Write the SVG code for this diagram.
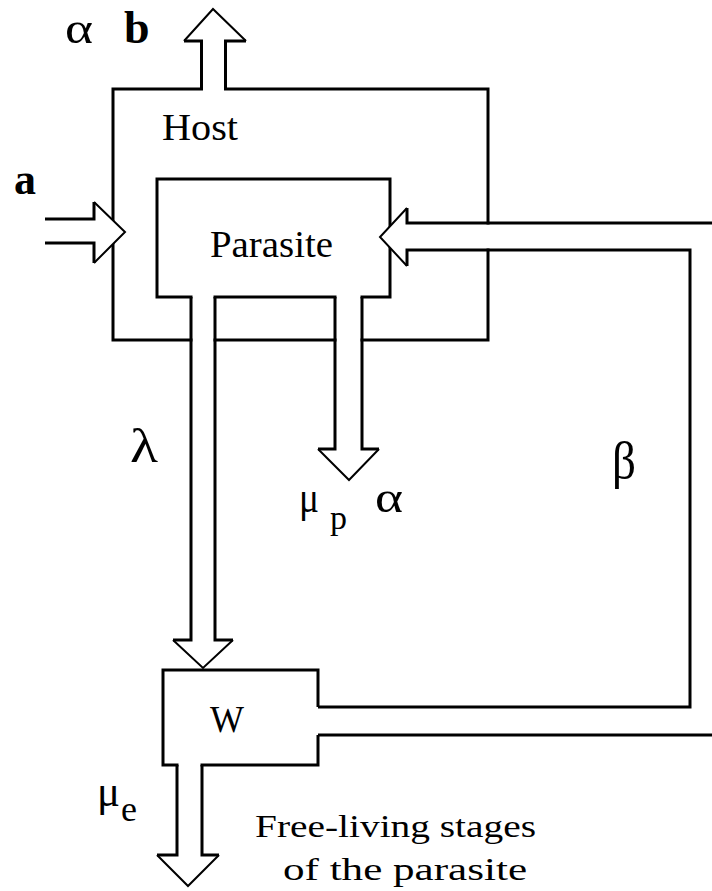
<svg xmlns="http://www.w3.org/2000/svg" width="712" height="891" viewBox="0 0 712 891">
<style>
.box{fill:#fff;stroke:#000;stroke-width:3}
.ln{fill:none;stroke:#000;stroke-width:3;stroke-linejoin:miter}
.dg{fill:none;stroke:#000;stroke-width:2}
.wf{fill:#fff;stroke:none}
.t{font-family:"Liberation Serif","Times New Roman",serif;fill:#000}
.b{font-weight:bold}
</style>
<rect width="712" height="891" fill="#fff"/>
<g id="host">
<rect class="box" x="113" y="89" width="375" height="251"/>
<text class="t" x="162" y="140" font-size="38" textLength="76" lengthAdjust="spacingAndGlyphs">Host</text>
</g>
<g id="parasite">
<rect class="box" x="157" y="179" width="233" height="118"/>
<text class="t" x="210" y="257" font-size="38" textLength="123" lengthAdjust="spacingAndGlyphs">Parasite</text>
</g>
<g id="w">
<path class="ln" d="M318,707 V670 H163 V765 H318 V735"/>
<text class="t" x="210" y="732" font-size="38" textLength="34" lengthAdjust="spacingAndGlyphs">W</text>
</g>
<g id="connectors">
<!-- b : out of host, upward -->
<polygon class="wf" points="203,91 203,41 184,41 213,9 246,41 224,41 224,91"/>
<path class="ln" d="M201.5,89 V41 H184"/>
<path class="dg" d="M184,41 L213,9 L246,41"/>
<path class="ln" d="M246,41 H225.5 V89"/>
<!-- a : into host -->
<polygon class="wf" points="45,220.5 94,220.5 94,202 125,232 94,263 94,241.5 45,241.5"/>
<path class="ln" d="M45,219 H94 V202"/>
<path class="dg" d="M94,202 L125,232 L94,263"/>
<path class="ln" d="M94,263 V243 H45"/>
<!-- beta : from W back into parasite -->
<polygon class="wf" points="712,224.5 407,224.5 407,208 380,237 407,266 407,248.5 712,248.5"/>
<path class="ln" d="M712,223 H407 V208"/>
<path class="dg" d="M407,208 L380,237 L407,266"/>
<path class="ln" d="M407,266 V250 H690 V707 H318"/>
<path class="ln" d="M318,735 H712"/>
<!-- lambda : parasite to W -->
<polygon class="wf" points="192.5,295 192.5,640 173,640 203,668 233,640 213.5,640 213.5,295"/>
<path class="ln" d="M191,297 V640 H173"/>
<path class="dg" d="M173,640 L203,668 L233,640"/>
<path class="ln" d="M233,640 H215 V297"/>
<!-- mu_p alpha : parasite death -->
<polygon class="wf" points="336.5,295 336.5,449 318,449 349,480 379,449 360.5,449 360.5,295"/>
<path class="ln" d="M335,297 V449 H318"/>
<path class="dg" d="M318,449 L349,480 L379,449"/>
<path class="ln" d="M379,449 H362 V297"/>
<!-- mu_e : W death -->
<polygon class="wf" points="178.5,763 178.5,855 157,855 188,886 219,855 200.5,855 200.5,763"/>
<path class="ln" d="M177,765 V855 H157"/>
<path class="dg" d="M157,855 L188,886 L219,855"/>
<path class="ln" d="M219,855 H202 V765"/>
</g>
<g id="labels">
<text class="t" x="65" y="43" font-size="44" textLength="28" lengthAdjust="spacingAndGlyphs">α</text>
<text class="t b" x="124" y="43" font-size="46">b</text>
<text class="t b" x="14" y="194" font-size="44">a</text>
<text class="t" x="130" y="462" font-size="48" textLength="28" lengthAdjust="spacingAndGlyphs">λ</text>
<text class="t" x="299" y="512" font-size="44" textLength="20" lengthAdjust="spacingAndGlyphs">μ</text>
<text class="t" x="330" y="529" font-size="34">p</text>
<text class="t" x="375" y="512" font-size="44" textLength="28" lengthAdjust="spacingAndGlyphs">α</text>
<text class="t" x="612" y="478" font-size="52" textLength="24" lengthAdjust="spacingAndGlyphs">β</text>
<text class="t" x="97" y="806" font-size="44" textLength="23" lengthAdjust="spacingAndGlyphs">μ</text>
<text class="t" x="121" y="821" font-size="36">e</text>
<text class="t" x="255" y="837" font-size="32" textLength="281" lengthAdjust="spacingAndGlyphs">Free-living stages</text>
<text class="t" x="283" y="880" font-size="32" textLength="244" lengthAdjust="spacingAndGlyphs">of the parasite</text>
</g>
</svg>
